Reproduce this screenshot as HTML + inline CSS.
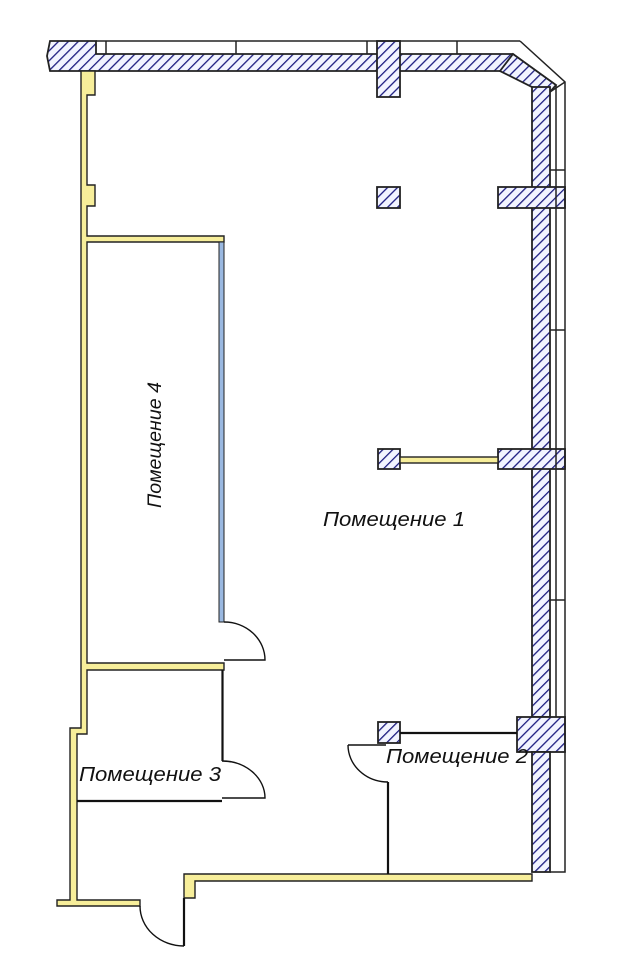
<!DOCTYPE html>
<html><head><meta charset="utf-8"><style>
html,body{margin:0;padding:0;background:#fff;}
svg{display:block;}
text{font-family:"Liberation Sans",sans-serif;font-style:italic;fill:#111;}
</style></head><body>
<svg width="639" height="960" viewBox="0 0 639 960" xmlns="http://www.w3.org/2000/svg">
<defs>
<pattern id="h" patternUnits="userSpaceOnUse" width="7" height="7" patternTransform="rotate(45)">
<rect width="7" height="7" fill="#f2f4ff"/>
<line x1="0" y1="0" x2="0" y2="7" stroke="#1c1c80" stroke-width="2.6"/>
</pattern>
</defs>
<rect width="639" height="960" fill="#fff"/>
<g stroke="#222" stroke-width="1.8" fill="url(#h)">
<polygon points="50,41 96,41 96,54 513,54 532,70 532,87 507,71 50,71 47,56"/>
<polygon points="500,71 513,54 556,85 550,92 532,87"/>
<rect x="532" y="87" width="18" height="630"/>
<rect x="517" y="717" width="48" height="35"/>
<rect x="532" y="752" width="18" height="120"/>
<rect x="377" y="41" width="23" height="56"/>
<rect x="377" y="187" width="23" height="21"/>
<rect x="498" y="187" width="67" height="21"/>
<rect x="378" y="449" width="22" height="20"/>
<rect x="498" y="449" width="67" height="20"/>
<rect x="378" y="722" width="22" height="21"/>
</g>
<g stroke="#222" stroke-width="1.5" fill="none">
<line x1="96" y1="41" x2="520" y2="41"/>
<polyline points="520,41 565,82 565,872 550,872"/>
<line x1="513" y1="54" x2="556" y2="85"/>
<line x1="556" y1="85" x2="556" y2="717"/>
<line x1="550" y1="92" x2="565" y2="82"/>
<line x1="106" y1="41" x2="106" y2="54"/>
<line x1="236" y1="41" x2="236" y2="54"/>
<line x1="367" y1="41" x2="367" y2="54"/>
<line x1="457" y1="41" x2="457" y2="54"/>
<line x1="550" y1="170" x2="565" y2="170"/>
<line x1="550" y1="330" x2="565" y2="330"/>
<line x1="550" y1="600" x2="565" y2="600"/>
</g>
<g fill="#f7ee9a" stroke="#222" stroke-width="1.4">
<polygon points="81,71 95,71 95,95 87,95 87,185 95,185 95,206 87,206 87,236 224,236 224,242 87,242 87,663 224,663 224,670 87,670 87,734 77,734 77,900 140,900 140,906 57,906 57,900 70,900 70,728 81,728"/>
<rect x="400" y="457" width="98" height="6"/>
<polygon points="184,898 184,874 532,874 532,881 195,881 195,898 190,898"/>
</g>
<rect x="219" y="242" width="5" height="380" fill="#9ab8e0" stroke="#222" stroke-width="1"/>
<g stroke="#111" stroke-width="2.2" fill="none">
<line x1="222.5" y1="670" x2="222.5" y2="761"/>
<line x1="77" y1="801" x2="222" y2="801"/>
<line x1="400" y1="733" x2="517" y2="733"/>
<line x1="388" y1="782" x2="388" y2="874"/>
<line x1="184" y1="898" x2="184" y2="946"/>
</g>
<g stroke="#111" stroke-width="1.4" fill="none">
<path d="M224,622 A41,38 0 0 1 265,660 L224,660"/>
<path d="M222,761 A43,37 0 0 1 265,798 L222,798"/>
<path d="M348,745 L386,745 M348,745 A40,37 0 0 0 388,782"/>
<path d="M140,906 A44,40 0 0 0 184,946"/>
</g>
<text x="0" y="0" font-size="19" transform="translate(161,445) rotate(-90)" text-anchor="middle" textLength="126" lengthAdjust="spacingAndGlyphs">Помещение 4</text>
<text x="323" y="526" font-size="20" textLength="142" lengthAdjust="spacingAndGlyphs">Помещение 1</text>
<text x="386" y="763" font-size="20" textLength="142" lengthAdjust="spacingAndGlyphs">Помещение 2</text>
<text x="79" y="781" font-size="20" textLength="142" lengthAdjust="spacingAndGlyphs">Помещение 3</text>
</svg>
</body></html>
